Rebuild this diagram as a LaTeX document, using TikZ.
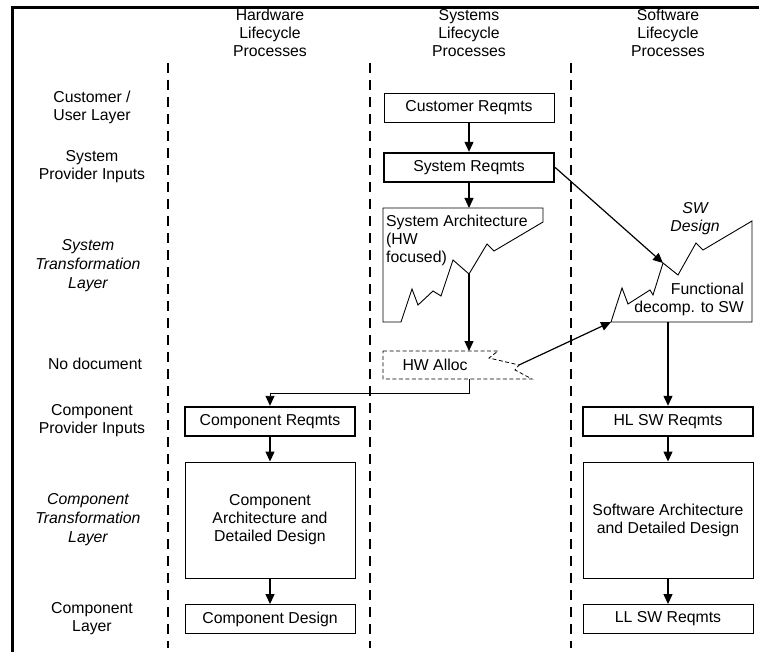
\documentclass[tikz,border=0pt]{standalone}
\usepackage{fontspec}
\setmainfont{Liberation Sans}
\usetikzlibrary{arrows.meta}

\begin{document}
\begin{tikzpicture}[x=1pt,y=-1pt,
	every node/.style={font=\fontsize{15.8}{18}\selectfont, align=center, inner sep=0pt},
	box/.style={draw, line width=0.9pt, minimum width=170pt, minimum height=29pt},
	thickbox/.style={box, line width=2.4pt},
	bigbox/.style={box, minimum height=116pt},
	layer/.style={font=\fontsize{15.8}{19}\selectfont\itshape},
	arr/.style={-{Triangle[length=10pt,width=9pt]}, line width=1.2pt},
	divider/.style={dash pattern=on 10pt off 7pt, line width=1.4pt}]
	\useasboundingbox (0,0) rectangle (759,652);
	\draw[line width=3pt] (12,652) -- (12,7.5) -- (759,7.5);

	% column heads and separators
	\node (hwhead) at (270,33) {Hardware\\Lifecycle\\Processes};
	\node (syshead) at (469,33) {Systems\\Lifecycle\\Processes};
	\node (swhead) at (668,33) {Software\\Lifecycle\\Processes};
	\draw[divider] (168,63) -- (168,648);
	\draw[divider] (370,63) -- (370,648);
	\draw[divider] (571,63) -- (571,648);

	% row labels
	\node (custlayer) at (92,107) {Customer /\\User Layer};
	\node (sysinput) at (92,167) {System\\Provider Inputs};
	\node[layer] (systrans) at (88,266) {System\\Transformation\\Layer};
	\node (nodoc) at (95,364) {No document};
	\node (compinput) at (92,421) {Component\\Provider Inputs};
	\node[layer] (comptrans) at (88,520) {Component\\Transformation\\Layer};
	\node (complayer) at (92,619) {Component\\Layer};

	% systems column
	\node[box] (custreq) at (469,108) {Customer Reqmts};
	\node[thickbox] (sysreq) at (469,167.5) {System Reqmts};
	\draw[line width=0.9pt] (383,208) -- (543,208) -- (543,222) -- (494,251) -- (487,244) -- (469,274) coordinate (archpeak) -- (453,260) -- (441,296) -- (433,291) -- (418,305) -- (412,289) -- (401,322) -- (383,322) -- cycle;
	\coordinate (archtop) at (469,208);
	\node[anchor=west, align=left] (archtext) at (386,240) {System Architecture\\(HW\\focused)};
	\draw[dash pattern=on 4pt off 2.5pt, line width=0.8pt] (383,351) -- (498,351) -- (489,358) -- (519,365) coordinate (alloczig) -- (515,370) -- (532,379) -- (383,379) -- cycle;
	\coordinate (alloctop) at (469,351);
	\coordinate (allocbot) at (469,379);
	\node (alloctext) at (435,365) {HW Alloc};

	% software column
	\draw[line width=0.9pt] (611,322) coordinate (swcorner) -- (622,288) -- (628,304) -- (650,290) -- (653,295) -- (663,263) coordinate (swpeak) -- (678,275) -- (696,243) -- (703,250) -- (752,221) -- (752,322) -- cycle;
	\coordinate (swbot) at (668,322);
	\node[font=\fontsize{15.8}{18}\selectfont\itshape] (swtitle) at (695,219) {SW\\Design};
	\node[anchor=east, align=right] (swtext) at (744,299) {Functional\\decomp. to SW};
	\node[thickbox] (hlswreq) at (668,421.5) {HL SW Reqmts};
	\node[bigbox] (swarch) at (668,520) {Software Architecture\\and Detailed Design};
	\node[box] (llswreq) at (668,619) {LL SW Reqmts};

	% hardware column
	\node[thickbox] (compreq) at (270,421.5) {Component Reqmts};
	\node[bigbox] (comparch) at (270,520) {Component\\Architecture and\\Detailed Design};
	\node[box] (compdes) at (270,619) {Component Design};

	% flows
	\draw[arr] (custreq) -- (sysreq);
	\draw[arr] (sysreq) -- (archtop);
	\draw[arr] (archpeak) -- (alloctop);
	\draw[arr, line width=0.9pt] (allocbot) -- ++(0,14) -| (compreq);
	\draw[arr] (sysreq.east) -- (swpeak);
	\draw[arr] (alloczig) -- (swcorner);
	\draw[arr] (swbot) -- (hlswreq);
	\draw[arr] (hlswreq) -- (swarch);
	\draw[arr] (swarch) -- (llswreq);
	\draw[arr] (compreq) -- (comparch);
	\draw[arr] (comparch) -- (compdes);
\end{tikzpicture}
\end{document}
